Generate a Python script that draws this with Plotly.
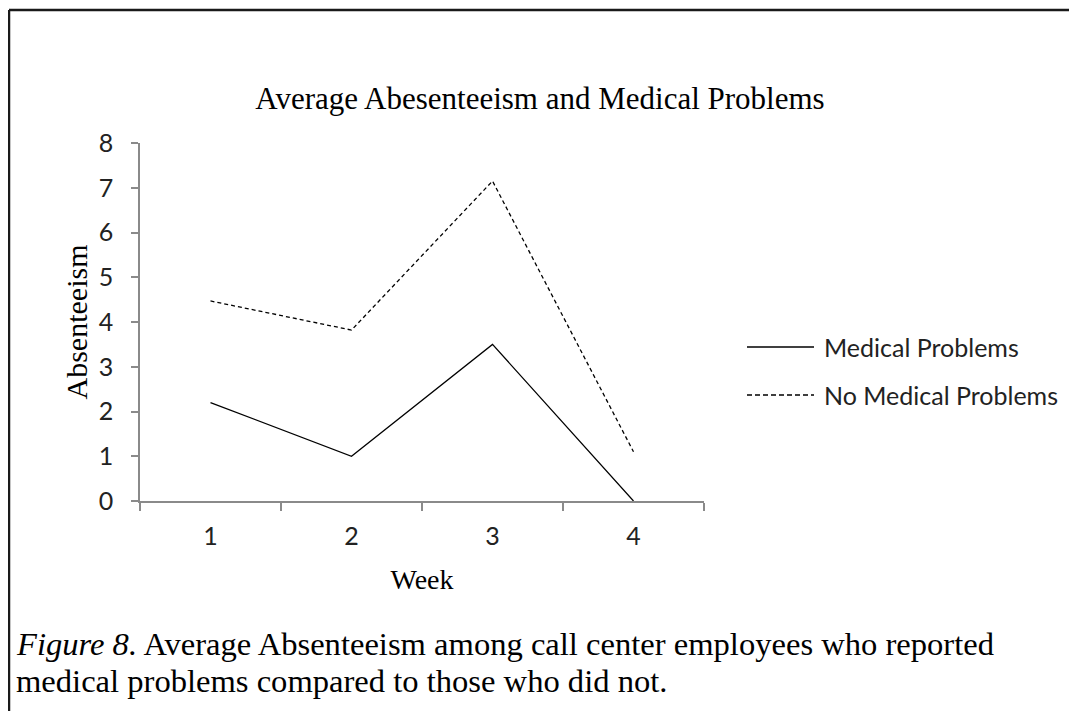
import plotly.graph_objects as go

weeks = ["1", "2", "3", "4"]
medical = [2.2, 1.0, 3.5, 0.0]
no_medical = [4.47, 3.82, 7.15, 1.1]
y_ticks = [0, 1, 2, 3, 4, 5, 6, 7, 8]
series_names = ["Medical Problems", "No Medical Problems"]

OFF = 8  # page body margin
W, H = 1077 - OFF, 711 - OFF
# plot area in page px
PL, PR, PT, PB = 140, 704, 143, 501
L, R, T, B = PL - OFF, PR - OFF, PT - OFF, PB - OFF


def px(x):  # page px -> paper x
    return (x - OFF - L) / (R - L)


def py(y):  # page px -> paper y
    return (B - (y - OFF)) / (B - T)


SERIF = "Liberation Serif, Times New Roman, serif"
SANS = "Lato, Carlito, Calibri, sans-serif"

fig = go.Figure()
fig.add_trace(go.Scatter(x=weeks, y=medical, mode="lines", name=series_names[0],
                         line=dict(color="black", width=1.3), showlegend=False))
fig.add_trace(go.Scatter(x=weeks, y=no_medical, mode="lines", name=series_names[1],
                         line=dict(color="black", width=1.3, dash="4px,3px"), showlegend=False))

fig.update_layout(
    width=W, height=H,
    margin=dict(l=L, r=W - R, t=T, b=H - B, autoexpand=False),
    paper_bgcolor="white", plot_bgcolor="white",
    title=dict(text="Average Abesenteeism and Medical Problems", x=(540 - OFF) / W, xref="container",
               xanchor="center", y=1 - (98 - OFF) / H, yanchor="middle",
               font=dict(family=SERIF, size=31, color="black")),
    xaxis=dict(type="category", tickson="boundaries", range=[-0.5, 3.5],
               showline=True, linecolor="#8a8a8a", linewidth=1.5,
               ticks="outside", ticklen=8, tickcolor="#8a8a8a", tickwidth=1.5,
               ticklabelstandoff=12, showgrid=False, zeroline=False,
               tickfont=dict(family=SANS, size=25, color="#222"),
               title=dict(text="Week", font=dict(family=SERIF, size=28, color="black"), standoff=21)),
    yaxis=dict(range=[0, 8], tickvals=y_ticks, showline=True, linecolor="#8a8a8a", linewidth=1.5,
               ticks="outside", ticklen=7, tickcolor="#8a8a8a", tickwidth=1.5,
               ticklabelstandoff=13, showgrid=False, zeroline=False,
               tickfont=dict(family=SANS, size=25, color="#222"),
               title=dict(text="Absenteeism", font=dict(family=SERIF, size=30, color="black"), standoff=2)),
)

# figure frame (top and left border)
frame_x0, frame_y0 = 9, 10
fig.add_shape(type="line", xref="paper", yref="paper", x0=px(frame_x0), x1=px(1090),
              y0=py(frame_y0), y1=py(frame_y0), line=dict(color="#1a1a1a", width=2.5))
fig.add_shape(type="line", xref="paper", yref="paper", x0=px(frame_x0), x1=px(frame_x0),
              y0=py(frame_y0), y1=py(730), line=dict(color="#1a1a1a", width=2.5))

# legend (manual)
legend_y = [347, 395]
dashes = ["solid", "5px,3px"]
for name, ly, d in zip(series_names, legend_y, dashes):
    fig.add_shape(type="line", xref="paper", yref="paper", x0=px(747), x1=px(814),
                  y0=py(ly), y1=py(ly), line=dict(color="black", width=1.3, dash=d))
    fig.add_annotation(text=name, xref="paper", yref="paper", x=px(822), y=py(ly),
                       xanchor="left", yanchor="middle", showarrow=False,
                       font=dict(family=SANS, size=25, color="#222"))

# caption
fig.add_annotation(text="<i>Figure 8.</i> Average Absenteeism among call center employees who reported",
                   xref="paper", yref="paper", x=px(14), y=py(644), xanchor="left", yanchor="middle",
                   showarrow=False, font=dict(family=SERIF, size=32.6, color="black"))
fig.add_annotation(text="medical problems compared to those who did not.",
                   xref="paper", yref="paper", x=px(14), y=py(681), xanchor="left", yanchor="middle",
                   showarrow=False, font=dict(family=SERIF, size=32.6, color="black"))

fig.write_html("out.html")
